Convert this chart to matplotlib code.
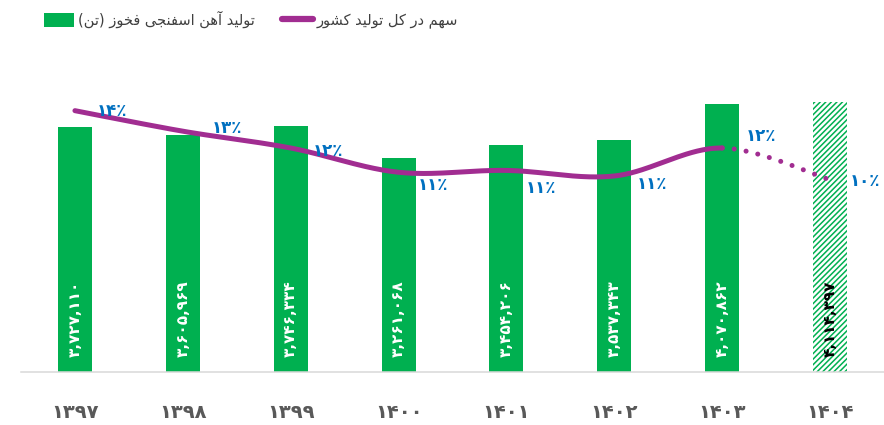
import numpy as np
import matplotlib.pyplot as plt
from matplotlib.patches import Patch
from matplotlib.lines import Line2D

# data
years = ['1397', '1398', '1399', '1400', '1401', '1402', '1403', '1404']
production = [3727110, 3605969, 3746334, 3261068, 3454206, 3537343, 4070862, 4114397]
share_pct = [14.0, 12.9, 12.0, 10.7, 10.8, 10.5, 12.0, 10.3]
forecast = [False, False, False, False, False, False, False, True]

bar_name = 'تولید آهن اسفنجی فخوز (تن)'
line_name = 'سهم در کل تولید کشور'

GREEN = '#00B050'
PURPLE = '#A12D91'
BLUE = '#0070C0'

FA_DIGITS = str.maketrans('0123456789', '۰۱۲۳۴۵۶۷۸۹')

# isolated, final, initial, medial presentation forms
FORMS = {
    'ا': ('\ufe8d', '\ufe8e', None, None),
    'آ': ('\ufe81', '\ufe82', None, None),
    'د': ('\ufea9', '\ufeaa', None, None),
    'ر': ('\ufead', '\ufeae', None, None),
    'ز': ('\ufeaf', '\ufeb0', None, None),
    'و': ('\ufeed', '\ufeee', None, None),
    'ت': ('\ufe95', '\ufe96', '\ufe97', '\ufe98'),
    'ج': ('\ufe9d', '\ufe9e', '\ufe9f', '\ufea0'),
    'خ': ('\ufea5', '\ufea6', '\ufea7', '\ufea8'),
    'س': ('\ufeb1', '\ufeb2', '\ufeb3', '\ufeb4'),
    'ش': ('\ufeb5', '\ufeb6', '\ufeb7', '\ufeb8'),
    'ف': ('\ufed1', '\ufed2', '\ufed3', '\ufed4'),
    'ل': ('\ufedd', '\ufede', '\ufedf', '\ufee0'),
    'م': ('\ufee1', '\ufee2', '\ufee3', '\ufee4'),
    'ن': ('\ufee5', '\ufee6', '\ufee7', '\ufee8'),
    'ه': ('\ufee9', '\ufeea', '\ufeeb', '\ufeec'),
    'ک': ('\ufb8e', '\ufb8f', '\ufb90', '\ufb91'),
    'ی': ('\ufbfc', '\ufbfd', '\ufbfe', '\ufbff'),
}


def shape(text):
    """Join Persian letters and reverse for left-to-right drawing"""
    out = []
    for i, ch in enumerate(text):
        if ch not in FORMS:
            out.append(ch)
            continue
        prev = text[i - 1] if i > 0 else ''
        nxt = text[i + 1] if i + 1 < len(text) else ''
        join_prev = prev in FORMS and FORMS[prev][2] is not None
        join_next = FORMS[ch][2] is not None and nxt in FORMS
        iso, fin, ini, med = FORMS[ch]
        if join_prev and join_next:
            out.append(med)
        elif join_prev:
            out.append(fin)
        elif join_next:
            out.append(ini)
        else:
            out.append(iso)
    mirror = {'(': ')', ')': '('}
    return ''.join(mirror.get(c, c) for c in reversed(out))


def smooth(xs, ys, n=40):
    """Excel-like smoothed line, one bezier piece per segment"""
    pts = np.column_stack([xs, ys]).astype(float)
    p = np.vstack([pts[0], pts, pts[-1]])
    t = np.linspace(0, 1, n)[:, None]
    segs = []
    for i in range(1, len(p) - 2):
        p0, p1, p2, p3 = p[i - 1], p[i], p[i + 1], p[i + 2]
        c1 = p1 + (p2 - p0) / 6
        c2 = p2 - (p3 - p1) / 6
        segs.append((1 - t) ** 3 * p1 + 3 * (1 - t) ** 2 * t * c1
                    + 3 * (1 - t) * t ** 2 * c2 + t ** 3 * p2)
    return segs


plt.rcParams['font.family'] = ['DejaVu Sans']
plt.rcParams['hatch.linewidth'] = 1.1

fig = plt.figure(figsize=(8.84, 4.25), dpi=100)
ax = fig.add_axes([21 / 884, 53 / 425, 863 / 884, 322 / 425])
x = np.arange(len(years))

for xi, val, fc in zip(x, production, forecast):
    if fc:
        ax.bar(xi, val, width=0.315, color='white', edgecolor=GREEN,
               hatch='//////', linewidth=0)
    else:
        ax.bar(xi, val, width=0.315, color=GREEN)
    ax.annotate(f'{val:,}'.translate(FA_DIGITS), (xi, 0), xytext=(0, 11),
                textcoords='offset points', rotation=90, ha='center', va='bottom',
                fontsize=11, fontweight='bold',
                color='black' if fc else 'white')

ax.set_xlim(-0.5, 7.5)
ax.set_ylim(0, 4.9e6)
ax.set_xticks(x)
ax.set_xticklabels([y.translate(FA_DIGITS) for y in years], fontsize=14,
                   fontweight='bold', color='#595959')
ax.tick_params(axis='x', length=0, pad=22)
ax.set_yticks([])
for s in ['top', 'left', 'right']:
    ax.spines[s].set_visible(False)
ax.spines['bottom'].set_color('#D9D9D9')
ax.spines['bottom'].set_linewidth(1.1)

ax2 = ax.twinx()
ax2.set_ylim(0, 17.25)
ax2.set_yticks([])
for s in ax2.spines.values():
    s.set_visible(False)

segs = smooth(x, share_pct)
solid = np.vstack(segs[:-1])
ax2.plot(solid[:, 0], solid[:, 1], color=PURPLE, lw=3.6, solid_capstyle='round')
ax2.plot(segs[-1][:, 0], segs[-1][:, 1], color=PURPLE, lw=3.6,
         linestyle=(0, (0.01, 2.4)), dash_capstyle='round')

# label offsets in points, to the right of each point
offsets = [(27, 0), (32, 2), (27, -2), (25, -9), (25, -13), (27, -6), (28, 9), (25, -1)]
for xi, val, off in zip(x, share_pct, offsets):
    ax2.annotate(f'{int(val + 0.5)}٪'.translate(FA_DIGITS), (xi, val), xytext=off,
                 textcoords='offset points', ha='center', va='center',
                 fontsize=12, fontweight='bold', color=BLUE)

handles = [Patch(facecolor=GREEN),
           Line2D([], [], color=PURPLE, lw=4.5, solid_capstyle='round')]
fig.legend(handles, [shape(bar_name), shape(line_name)], ncol=2, loc='center',
           bbox_to_anchor=(251 / 884, 1 - 20 / 425), frameon=False,
           fontsize=10.5, handlelength=2.1, handleheight=1.15, handletextpad=0.27,
           columnspacing=1.85, labelcolor='#404040')

fig.savefig('out.png', dpi=100)
